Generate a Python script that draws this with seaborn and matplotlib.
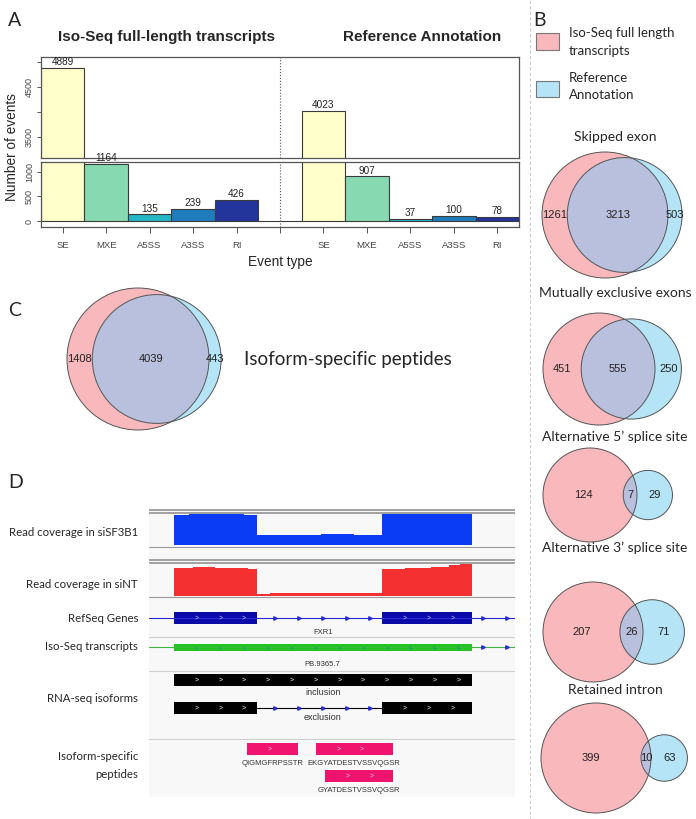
import numpy as np
import pandas as pd
import matplotlib
matplotlib.use("Agg")
import matplotlib.pyplot as plt
import seaborn as sns
from matplotlib.patches import Circle, Rectangle

sns.set_theme(style="white")
plt.rcParams['font.family'] = ['Liberation Sans', 'DejaVu Sans']

# ---------------- data ----------------
# panel A: splicing events per event type
event_types = ["SE", "MXE", "A5SS", "A3SS", "RI"]
isoseq_counts = [4889, 1164, 135, 239, 426]
reference_counts = [4023, 907, 37, 100, 78]
event_colors = ["#ffffcc", "#86d9b1", "#25b5c6", "#1f7cbd", "#23349a"]

# panel B: overlap of events (Iso-Seq only / shared / reference only)
venn_titles = ["Skipped exon", "Mutually exclusive exons",
               "Alternative 5\u2019 splice site", "Alternative 3\u2019 splice site",
               "Retained intron"]
isoseq_only = [1261, 451, 124, 207, 399]
shared = [3213, 555, 7, 26, 10]
reference_only = [503, 250, 29, 71, 63]

# panel C: isoform-specific peptides
peptide_counts = [1408, 4039, 443]

# panel D: FXR1 locus (view coordinates 0-1000)
exon_starts = [68, 637]
exon_ends = [295, 883]
sf3b1_pos = [68, 110, 170, 215, 260, 295, 400, 470, 560, 637, 720, 800, 883]
sf3b1_cov = [0.98, 1.0, 1.0, 0.99, 0.97, 0.31, 0.32, 0.34, 0.33, 1.0, 1.0, 0.99]
nt_pos = [68, 120, 180, 230, 270, 295, 330, 500, 637, 700, 770, 820, 850, 883]
nt_cov = [0.86, 0.89, 0.88, 0.87, 0.83, 0.04, 0.08, 0.08, 0.84, 0.87, 0.9, 0.96, 1.0]
peptide_names = ["QIGMGFRPSSTR", "EKGYATDESTVSSVQGSR", "GYATDESTVSSVQGSR"]
peptide_starts = [267, 455, 481]
peptide_ends = [408, 666, 666]
peptide_rows = [0, 0, 1]

PINK, BLUE, LENS = "#f9b8bc", "#b4e4f6", "#b9c0de"
W, H = 696, 819
CAL = ['Lato', 'DejaVu Sans']


def px(x0, y0, x1, y1):
    return [x0 / W, 1 - y1 / H, (x1 - x0) / W, (y1 - y0) / H]


fig = plt.figure(figsize=(W / 100, H / 100), dpi=100)
cv = fig.add_axes([0, 0, 1, 1])
cv.set_xlim(0, W)
cv.set_ylim(H, 0)
cv.axis('off')

# ---------------- panel A ----------------
slots = isoseq_counts + [0] + reference_counts
slot_labels = event_types + [""] + event_types
slot_ids = [f"s{i}" for i in range(len(slots))]
slot_colors = dict(zip(slot_ids, event_colors + ["#ffffff"] + event_colors))
bars = pd.DataFrame({"slot": slot_ids, "events": slots})

ax_top = fig.add_axes(px(41, 57, 519, 158))
ax_bot = fig.add_axes(px(41, 162, 519, 227))
for ax in (ax_top, ax_bot):
    sns.barplot(data=bars, x="slot", y="events", hue="slot", order=slot_ids,
                palette=slot_colors, legend=False, width=1, saturation=1,
                edgecolor="#3a3a3a", linewidth=0.8, ax=ax)
    ax.set_xlim(-0.5, 10.5)
    ax.axvline(5, color="#555555", ls=":", lw=0.8)
    ax.set_xlabel("")
    ax.set_ylabel("")
    for s in ax.spines.values():
        s.set_color("#555555")
        s.set_linewidth(0.9)
    ax.tick_params(axis='y', left=True, length=3, width=0.7, color="#555555",
                   labelsize=6.5, labelcolor="#444444", pad=2)
    ax.set_facecolor("white")

ax_top.set_ylim(3080, 5100)
ax_top.set_yticks([3500, 4000, 4500, 5000])
ax_top.set_yticklabels(["3500", "", "4500", ""], rotation=90, va='center')
ax_top.set_xticks([])

ax_bot.set_ylim(-121, 1200)
ax_bot.set_yticks([0, 500, 1000])
ax_bot.set_yticklabels(["0", "500", "1000"], rotation=90, va='center')
ax_bot.set_xticks(range(len(slots)))
ax_bot.set_xticklabels(slot_labels)
ax_bot.tick_params(axis='x', bottom=True, length=4, width=0.7, color="#555555",
                   labelsize=6.8, labelcolor="#444444", pad=6)

for i, v in enumerate(slots):
    if slot_labels[i] == "":
        continue
    ax = ax_top if v > 3080 else ax_bot
    ax.annotate(str(v), (i, v), xytext=(0, 4.2), textcoords='offset points',
                ha='center', va='center', fontsize=7.2, color="#222222",
                annotation_clip=False)

cv.text(167, 37, "Iso-Seq full-length transcripts", ha='center', va='center',
        fontsize=11, fontweight='bold')
cv.text(422, 37, "Reference Annotation", ha='center', va='center',
        fontsize=11, fontweight='bold')
cv.text(12, 147, "Number of events", rotation=90, ha='center', va='center', fontsize=9.8)
cv.text(280, 262, "Event type", ha='center', va='center', fontsize=9.8)

# panel labels and column separator
for lab, x, y in [("A", 8, 20), ("B", 533, 20), ("C", 8, 310), ("D", 8, 483)]:
    cv.text(x, y, lab, fontsize=14, family=CAL, va='center', ha='left')
cv.plot([530, 530], [0, H], color="#cccccc", ls=(0, (3, 2)), lw=0.8)


# ---------------- Venn helpers ----------------
def lens_area(r1, r2, d):
    if d >= r1 + r2:
        return 0.0
    if d <= abs(r1 - r2):
        return np.pi * min(r1, r2) ** 2
    a1 = r1 ** 2 * np.arccos((d * d + r1 * r1 - r2 * r2) / (2 * d * r1))
    a2 = r2 ** 2 * np.arccos((d * d + r2 * r2 - r1 * r1) / (2 * d * r2))
    a3 = 0.5 * np.sqrt((-d + r1 + r2) * (d + r1 - r2) * (d - r1 + r2) * (d + r1 + r2))
    return a1 + a2 - a3


def venn_distance(r1, r2, overlap):
    lo, hi = abs(r1 - r2), r1 + r2
    for _ in range(60):
        mid = (lo + hi) / 2
        if lens_area(r1, r2, mid) > overlap:
            lo = mid
        else:
            hi = mid
    return (lo + hi) / 2


def draw_venn(ax, a_only, both, b_only, cx, cy, radius_px, fs=8):
    ra = np.sqrt((a_only + both) / np.pi)
    rb = np.sqrt((b_only + both) / np.pi)
    d = venn_distance(ra, rb, both)
    k = radius_px / ra
    ra, rb, d = ra * k, rb * k, d * k
    bx = cx + d
    pink = Circle((cx, cy), ra, fc=PINK, ec='none')
    ax.add_patch(pink)
    ax.add_patch(Circle((bx, cy), rb, fc=BLUE, ec='none'))
    lens = Circle((bx, cy), rb, fc=LENS, ec='none')
    ax.add_patch(lens)
    lens.set_clip_path(pink)
    ax.add_patch(Circle((cx, cy), ra, fill=False, ec="#555555", lw=0.7))
    ax.add_patch(Circle((bx, cy), rb, fill=False, ec="#555555", lw=0.7))
    la, lb, ra_, rb_ = cx - ra, bx - rb, cx + ra, bx + rb
    for x, t in [((la + lb) / 2, a_only), ((lb + ra_) / 2, both), ((ra_ + rb_) / 2, b_only)]:
        ax.text(x, cy, str(t), ha='center', va='center', fontsize=fs, color="#222222")


# ---------------- panel B ----------------
cv.add_patch(Rectangle((536, 33), 23, 17, fc=PINK, ec="#777777", lw=0.8))
cv.add_patch(Rectangle((536, 81), 23, 16, fc=BLUE, ec="#777777", lw=0.8))
for txt, y in [("Iso-Seq full length", 33), ("transcripts", 51),
               ("Reference", 78), ("Annotation", 95)]:
    cv.text(569, y, txt, fontsize=9.5, family=CAL, va='center', ha='left')

venn_layout = [(137, 605, 215, 63), (293, 599, 369, 56), (437, 590, 495, 47),
               (548, 593, 632, 50), (690, 596, 758, 55)]
for title, a, s, b, (ty, cx, cy, r) in zip(venn_titles, isoseq_only, shared,
                                           reference_only, venn_layout):
    cv.text(615, ty, title, fontsize=10, family=CAL, ha='center', va='center')
    draw_venn(cv, a, s, b, cx, cy, r)

# ---------------- panel C ----------------
draw_venn(cv, peptide_counts[0], peptide_counts[1], peptide_counts[2], 138, 359, 71)
cv.text(244, 360, "Isoform-specific peptides", fontsize=13.5, family=CAL,
        ha='left', va='center')

# ---------------- panel D ----------------
ax_d = fig.add_axes(px(149, 509, 515, 797))
ax_d.set_xlim(0, 1000)
ax_d.set_ylim(797, 509)
ax_d.set_facecolor("#f8f8f8")
for s in ax_d.spines.values():
    s.set_visible(False)
ax_d.set_xticks([])
ax_d.set_yticks([])

for y in [510, 513, 560, 563]:
    ax_d.axhline(y, color="#8a8a8a", lw=1.1)
for y in [547, 597]:
    ax_d.axhline(y, color="#9a9a9a", lw=0.8)
for y in [637, 671, 739]:
    ax_d.axhline(y, color="#cfcfcf", lw=0.8)

cov1 = fig.add_axes(px(149, 514, 515, 547))
cov2 = fig.add_axes(px(149, 564, 515, 597))
for ax, pos, cov, col, lo, hi in [(cov1, sf3b1_pos, sf3b1_cov, "#0a3cf5", -0.065, 1.0),
                                  (cov2, nt_pos, nt_cov, "#f53030", -0.04, 1.0)]:
    ax.fill_between(pos, cov + cov[-1:], step='post', color=col, lw=0)
    ax.set_xlim(0, 1000)
    ax.set_ylim(lo, hi)
    ax.set_facecolor("#f4f4f4")
    ax.axis('off')

# RefSeq gene
ax_d.plot([0, 1000], [618, 618], color="#2a2ad8", lw=0.8)
for s, e in zip(exon_starts, exon_ends):
    ax_d.add_patch(Rectangle((s, 612), e - s, 12, fc="#0a0aa8", ec='none'))
    for x in np.arange(s + 62, e - 20, 65):
        ax_d.text(x, 618, ">", color="#d0d0ff", fontsize=5, ha='center', va='center')
intron_marks = list(np.arange(exon_ends[0] + 50, exon_starts[1] - 20, 65)) + [913, 978]
ax_d.plot(intron_marks, [618] * len(intron_marks), ls='none', marker='>', ms=2.5,
          color="#2a2ad8")
ax_d.text(475, 633, "FXR1", fontsize=5.5, ha='center', va='center', color="#333333")

# Iso-Seq transcript
ax_d.plot([0, 1000], [647, 647], color="#3cb83c", lw=0.8)
ax_d.add_patch(Rectangle((exon_starts[0], 644), exon_ends[1] - exon_starts[0], 7,
                         fc="#22c422", ec='none'))
for x in np.arange(exon_starts[0] + 62, exon_ends[1] - 20, 65):
    ax_d.text(x, 647.5, ">", color="#1a6fd8", fontsize=4, ha='center', va='center')
ax_d.plot([913, 978], [647, 647], ls='none', marker='>', ms=2.5, color="#2a2ad8")
ax_d.text(473, 665, "PB.9365.7", fontsize=5.5, ha='center', va='center', color="#333333")

# RNA-seq isoforms
ax_d.add_patch(Rectangle((exon_starts[0], 674), exon_ends[1] - exon_starts[0], 12,
                         fc="black", ec='none'))
for x in np.arange(exon_starts[0] + 62, exon_ends[1] - 20, 65):
    ax_d.text(x, 680, ">", color="white", fontsize=5, ha='center', va='center')
ax_d.text(475, 693, "inclusion", fontsize=6.5, ha='center', va='center', color="#333333")
ax_d.plot([exon_ends[0], exon_starts[1]], [708, 708], color="black", lw=0.8)
for s, e in zip(exon_starts, exon_ends):
    ax_d.add_patch(Rectangle((s, 702), e - s, 12, fc="black", ec='none'))
    for x in np.arange(s + 62, e - 20, 65):
        ax_d.text(x, 708, ">", color="white", fontsize=5, ha='center', va='center')
ax_d.plot(intron_marks[:5], [708] * 5, ls='none', marker='>', ms=2.5, color="#2a2ad8")
ax_d.text(475, 718, "exclusion", fontsize=6.5, ha='center', va='center', color="#333333")

# peptides
for name, s, e, row in zip(peptide_names, peptide_starts, peptide_ends, peptide_rows):
    y0 = 743 + row * 27
    ax_d.add_patch(Rectangle((s, y0), e - s, 12, fc="#f0146e", ec='none'))
    for x in np.arange(s + 62, e - 20, 65):
        ax_d.text(x, y0 + 6, ">", color="#ffd0e0", fontsize=5, ha='center', va='center')
    ax_d.text((s + e) / 2, y0 + 21, name, fontsize=5.5, ha='center', va='center',
              color="#333333")

for txt, y in [("Read coverage in siSF3B1", 533), ("Read coverage in siNT", 585),
               ("RefSeq Genes", 618), ("Iso-Seq transcripts", 647),
               ("RNA-seq isoforms", 699), ("Isoform-specific", 757), ("peptides", 774)]:
    cv.text(138, y, txt, fontsize=8.2, family=CAL, ha='right', va='center')

fig.savefig("out.png", dpi=100)
